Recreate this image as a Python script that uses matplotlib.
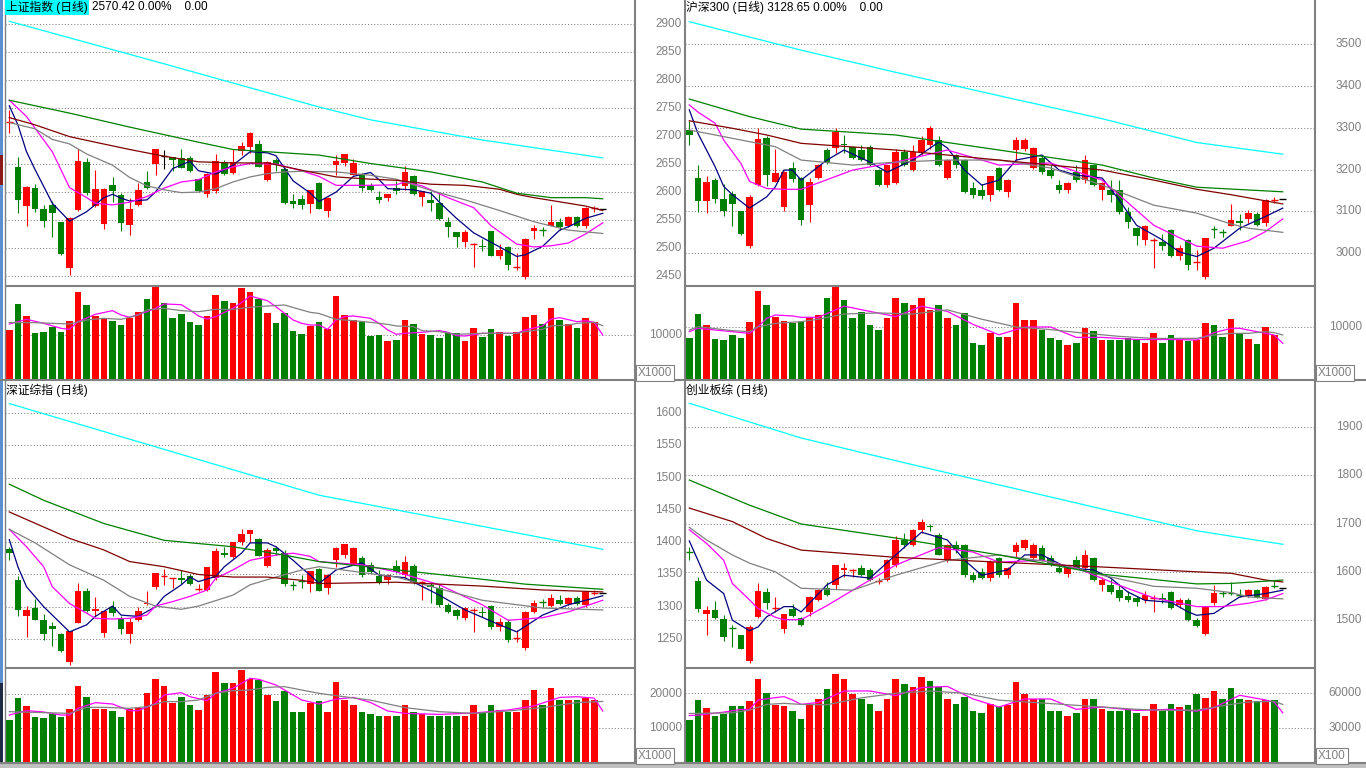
# four-panel daily k-line board (上证 / 沪深300 / 深证综指 / 创业板综)
import matplotlib
matplotlib.use('Agg')
import matplotlib.pyplot as plt
from matplotlib.lines import Line2D
from matplotlib.patches import Rectangle
from matplotlib.transforms import blended_transform_factory

plt.rcParams['font.family'] = ['Liberation Sans', 'Noto Sans CJK SC']

# ---------------- data ----------------
# rows are (open, high, low, close), 70 daily bars
sh_ohlc = [
    (2725, 2746, 2705, 2726), (2645, 2663, 2563, 2586), (2575, 2610, 2539, 2609),
    (2607, 2614, 2564, 2570), (2570, 2576, 2538, 2549), (2577, 2584, 2520, 2563),
    (2546, 2547, 2487, 2489), (2464, 2556, 2452, 2553), (2568, 2677, 2567, 2655),
    (2654, 2660, 2594, 2598), (2575, 2640, 2574, 2605), (2543, 2607, 2534, 2605),
    (2612, 2627, 2583, 2601), (2595, 2598, 2531, 2545), (2541, 2589, 2523, 2570),
    (2576, 2616, 2575, 2604), (2618, 2637, 2606, 2607), (2650, 2677, 2630, 2677),
    (2665, 2675, 2642, 2665), (2662, 2663, 2638, 2658), (2660, 2677, 2643, 2643),
    (2660, 2664, 2635, 2638), (2623, 2624, 2600, 2601), (2596, 2634, 2592, 2633),
    (2601, 2668, 2599, 2655), (2651, 2657, 2630, 2633), (2634, 2676, 2633, 2653),
    (2673, 2690, 2667, 2683), (2681, 2708, 2670, 2705), (2686, 2693, 2644, 2645),
    (2621, 2655, 2620, 2654), (2658, 2660, 2638, 2648), (2642, 2643, 2579, 2581),
    (2584, 2596, 2571, 2578), (2587, 2595, 2569, 2577), (2578, 2604, 2563, 2604),
    (2617, 2618, 2569, 2570), (2567, 2592, 2556, 2590), (2648, 2667, 2630, 2655),
    (2651, 2668, 2646, 2668), (2630, 2659, 2630, 2651), (2630, 2634, 2601, 2607),
    (2610, 2617, 2601, 2604), (2591, 2601, 2580, 2586), (2590, 2597, 2584, 2596),
    (2608, 2619, 2596, 2602), (2610, 2646, 2604, 2636), (2629, 2630, 2595, 2596),
    (2591, 2601, 2575, 2601), (2586, 2601, 2567, 2580), (2581, 2599, 2550, 2551),
    (2547, 2556, 2519, 2538), (2528, 2529, 2501, 2519), (2510, 2532, 2501, 2529),
    (2507, 2509, 2466, 2508), (2504, 2517, 2495, 2502), (2530, 2531, 2486, 2486),
    (2485, 2507, 2480, 2496), (2501, 2504, 2460, 2469), (2466, 2491, 2460, 2467),
    (2449, 2518, 2444, 2516), (2530, 2541, 2517, 2536), (2532, 2538, 2521, 2531),
    (2539, 2577, 2539, 2547), (2546, 2553, 2532, 2537), (2539, 2557, 2537, 2556),
    (2556, 2558, 2537, 2539), (2540, 2573, 2535, 2572), (2571, 2575, 2565, 2572),
    (2570.42, 2570.42, 2570.42, 2570.42),
]
sh_vol = [11140, 17050, 14320, 10530, 10680, 11820, 10680, 13180, 19770, 16820,
          14320, 13860, 13250, 12270, 13860, 15230, 18180, 20910, 17200, 13860,
          14850, 12950, 12270, 14320, 19090, 17730, 17270, 20680, 19770, 18180,
          15000, 12730, 15000, 10910, 10230, 12120, 12950, 11360, 18860, 14550,
          13410, 12950, 9770, 10000, 8640, 8860, 13410, 12500, 10230, 10000,
          9320, 10450, 10450, 8640, 11590, 9550, 11360, 10680, 9770, 10680,
          14090, 14550, 12500, 16140, 13410, 12500, 11590, 13860, 12950, 100]
# moving averages as (bar, value) readings
sh_ma5 = [(0, 2754), (1, 2720), (2, 2672), (3, 2640), (5, 2580), (7, 2548), (9, 2565),
          (11, 2590), (12, 2596), (13, 2589), (14, 2584), (16, 2586), (17, 2600), (19, 2642),
          (21, 2655), (22, 2638), (24, 2632), (26, 2648), (28, 2672), (30, 2670), (31, 2665),
          (33, 2620), (35, 2598), (36, 2583), (38, 2600), (40, 2628), (42, 2635), (43, 2622),
          (44, 2606), (47, 2604), (49, 2598), (50, 2582), (52, 2553), (54, 2527), (57, 2502),
          (59, 2485), (60, 2488), (62, 2503), (64, 2532), (65, 2538), (67, 2553), (69, 2562)]
sh_ma10 = [(0, 2764), (2, 2735), (4, 2693), (5, 2672), (7, 2608), (9, 2590), (10, 2580),
           (12, 2577), (14, 2582), (16, 2592), (18, 2607), (20, 2618), (22, 2622), (24, 2636),
           (26, 2645), (28, 2651), (31, 2650), (34, 2638), (36, 2628), (38, 2612), (42, 2612),
           (45, 2613), (46, 2618), (48, 2611), (51, 2590), (54, 2572), (56, 2540), (59, 2507),
           (61, 2502), (63, 2504), (65, 2509), (67, 2525), (69, 2545)]
sh_ma20 = [(0, 2724), (3, 2713), (5, 2694), (7, 2686), (9, 2668), (12, 2648), (14, 2626),
           (16, 2611), (18, 2604), (20, 2599), (22, 2600), (24, 2606), (26, 2618), (28, 2627),
           (30, 2633), (32, 2636), (34, 2637), (38, 2636), (42, 2630), (45, 2623), (49, 2603),
           (53, 2586), (57, 2567), (61, 2547), (65, 2532), (69, 2526)]
sh_ma30 = [(0, 2733), (3, 2720), (7, 2699), (10, 2689), (14, 2676), (18, 2664), (22, 2654),
           (26, 2652), (30, 2652), (34, 2639), (38, 2627), (42, 2623), (45, 2621), (49, 2614),
           (53, 2612), (57, 2605), (59, 2596), (61, 2590), (65, 2580), (67, 2575), (69, 2567)]
sh_ma60 = [(0, 2764), (7, 2741), (14, 2716), (22, 2689), (26, 2676), (36, 2666), (42, 2651),
           (49, 2636), (55, 2618), (59, 2598), (63, 2590), (67, 2590), (69, 2588)]
sh_ma250 = [(0, 2905), (18, 2829), (36, 2752), (42, 2729), (55, 2693), (69, 2661)]
sh_vma5 = [(0, 12500), (2, 13560), (4, 12650), (6, 11520), (7, 11290), (8, 13030), (10, 14700),
           (12, 15530), (13, 14550), (14, 14020), (16, 15300), (17, 16060), (18, 17050),
           (20, 16890), (21, 15680), (22, 14320), (23, 13640), (24, 14170), (25, 15150),
           (26, 16060), (27, 17350), (28, 18860), (29, 18330), (30, 17800), (31, 16440),
           (32, 14920), (33, 13410), (34, 12650), (35, 12270), (36, 12270), (37, 11290),
           (38, 13410), (39, 14170), (40, 14320), (42, 13790), (43, 12650), (44, 11140),
           (45, 10150), (46, 10380), (48, 10610), (50, 10990), (51, 10610), (52, 9850),
           (53, 9770), (55, 10380), (57, 10380), (59, 10380), (60, 11140), (62, 12050),
           (63, 13640), (64, 13940), (66, 13030), (67, 13260), (68, 12880), (69, 10000)]
sh_vma10 = [(0, 12800), (3, 12800), (5, 12650), (7, 12500), (9, 13410), (11, 13790),
            (13, 13560), (15, 14550), (16, 15680), (18, 16060), (20, 15530), (22, 15300),
            (24, 15830), (26, 15830), (28, 16290), (30, 16590), (32, 16820), (34, 15680),
            (35, 15150), (36, 14900), (38, 13560), (40, 13260), (42, 12880), (44, 12420),
            (45, 12050), (47, 11890), (48, 10990), (50, 10760), (52, 10150), (55, 10380),
            (59, 10380), (60, 10760), (62, 11290), (63, 12050), (65, 12270), (66, 12650),
            (68, 12880), (69, 12120)]

hs_ohlc = [
    (3295, 3317, 3259, 3283), (3179, 3211, 3099, 3125), (3125, 3185, 3097, 3171),
    (3175, 3180, 3121, 3129), (3130, 3165, 3090, 3102), (3142, 3149, 3064, 3118),
    (3100, 3101, 3044, 3046), (3018, 3139, 3012, 3135), (3163, 3299, 3160, 3273),
    (3275, 3280, 3161, 3187), (3171, 3249, 3170, 3191), (3110, 3196, 3102, 3195),
    (3203, 3219, 3170, 3177), (3180, 3182, 3068, 3080), (3115, 3180, 3075, 3171),
    (3180, 3213, 3178, 3211), (3247, 3252, 3214, 3216), (3252, 3299, 3240, 3290),
    (3262, 3283, 3240, 3258), (3254, 3257, 3225, 3228), (3247, 3260, 3220, 3223),
    (3254, 3258, 3208, 3211), (3199, 3201, 3160, 3163), (3163, 3212, 3158, 3211),
    (3168, 3250, 3165, 3242), (3242, 3250, 3208, 3211), (3199, 3260, 3197, 3242),
    (3242, 3280, 3235, 3271), (3259, 3304, 3250, 3300), (3271, 3280, 3208, 3211),
    (3180, 3225, 3178, 3223), (3235, 3238, 3205, 3211), (3223, 3225, 3144, 3147),
    (3156, 3170, 3132, 3140), (3151, 3165, 3130, 3137), (3140, 3186, 3125, 3185),
    (3204, 3206, 3148, 3151), (3147, 3178, 3135, 3175), (3247, 3278, 3223, 3271),
    (3250, 3275, 3245, 3271), (3204, 3255, 3202, 3252), (3228, 3235, 3190, 3194),
    (3199, 3210, 3180, 3185), (3163, 3175, 3145, 3151), (3151, 3170, 3145, 3168),
    (3194, 3210, 3170, 3175), (3175, 3235, 3168, 3223), (3211, 3214, 3160, 3163),
    (3151, 3170, 3128, 3168), (3151, 3175, 3122, 3140), (3151, 3175, 3095, 3099),
    (3099, 3110, 3060, 3075), (3061, 3063, 3020, 3041), (3032, 3068, 3020, 3065),
    (3032, 3037, 2965, 3033), (3027, 3045, 3008, 3018), (3056, 3058, 2992, 2994),
    (2994, 3020, 2985, 3013), (3032, 3035, 2960, 2972), (2979, 3008, 2960, 2980),
    (2942, 3037, 2938, 3037), (3058, 3064, 3036, 3057), (3050, 3057, 3040, 3049),
    (3065, 3118, 3064, 3080), (3077, 3094, 3056, 3073), (3083, 3104, 3073, 3096),
    (3094, 3099, 3065, 3067), (3073, 3129, 3065, 3127), (3127, 3134, 3120, 3128),
    (3128.65, 3128.65, 3128.65, 3128.65),
]
hs_vol = [7950, 12500, 10380, 7690, 7500, 8460, 7950, 10960, 16920, 14230,
          11990, 11150, 10700, 10960, 11730, 12310, 15580, 17690, 15190, 11730,
          12880, 10380, 9420, 11730, 15580, 14620, 14230, 15580, 13270, 14230,
          11730, 10380, 12690, 6920, 6540, 8850, 8080, 8080, 14620, 11350,
          11350, 9420, 7880, 7500, 6540, 6920, 9810, 9230, 7500, 7500,
          7500, 7880, 7500, 6920, 8850, 6920, 8460, 7500, 7310, 7500,
          10700, 10380, 8010, 11540, 8910, 7690, 6730, 10060, 8460, 60]
hs_ma5 = [(0, 3343), (1, 3287), (3, 3207), (4, 3160), (5, 3140), (7, 3108), (9, 3135),
          (10, 3159), (11, 3199), (12, 3199), (13, 3175), (16, 3223), (18, 3247), (21, 3218),
          (23, 3194), (26, 3223), (29, 3266), (30, 3252), (32, 3199), (34, 3163), (36, 3175),
          (38, 3223), (41, 3235), (43, 3199), (45, 3187), (48, 3180), (50, 3127), (52, 3067),
          (55, 3032), (57, 3003), (59, 2992), (61, 3012), (64, 3060), (67, 3088), (69, 3108)]
hs_ma10 = [(0, 3355), (1, 3338), (3, 3311), (4, 3271), (6, 3215), (7, 3172), (9, 3155),
           (11, 3153), (13, 3153), (19, 3199), (24, 3218), (30, 3247), (36, 3211), (42, 3216),
           (48, 3175), (54, 3067), (59, 3017), (62, 3012), (65, 3030), (67, 3052), (69, 3082)]
hs_ma20 = [(0, 3295), (3, 3283), (7, 3267), (10, 3255), (13, 3223), (19, 3211), (24, 3218),
           (30, 3223), (36, 3223), (42, 3204), (48, 3163), (54, 3115), (59, 3096), (63, 3070),
           (65, 3060), (69, 3050)]
hs_ma30 = [(0, 3317), (5, 3299), (9, 3283), (13, 3263), (24, 3247), (36, 3223), (48, 3199),
           (54, 3175), (59, 3153), (63, 3140), (69, 3118)]
hs_ma60 = [(0, 3369), (7, 3327), (13, 3297), (24, 3283), (36, 3247), (48, 3211), (54, 3180),
           (59, 3158), (69, 3147)]
hs_ma250 = [(0, 3554), (13, 3486), (24, 3433), (36, 3377), (48, 3322), (59, 3265), (69, 3237)]
hs_vma5 = [(0, 9100), (1, 9750), (3, 9420), (5, 9100), (7, 8780), (8, 10060), (9, 11670),
           (10, 12310), (12, 12120), (13, 11860), (15, 11860), (18, 14000), (21, 13000),
           (24, 12000), (27, 14000), (30, 13000), (33, 10500), (36, 8500), (39, 10000),
           (42, 10000), (45, 8000), (48, 8000), (52, 7600), (56, 7600), (59, 7500),
           (61, 8900), (63, 9750), (64, 9750), (65, 9420), (67, 8780), (68, 8460), (69, 6860)]
hs_vma10 = [(0, 9420), (1, 10060), (5, 9300), (7, 9100), (8, 10060), (10, 10700), (13, 11030),
            (15, 11500), (18, 12500), (22, 12700), (26, 12500), (30, 13300), (34, 11500),
            (38, 10000), (42, 9500), (46, 8800), (50, 8200), (54, 7800), (59, 7820),
            (61, 8460), (63, 8780), (65, 8780), (67, 9100), (68, 8910), (69, 8460)]

sz_ohlc = [
    (1389, 1393, 1373, 1384), (1341, 1347, 1286, 1295), (1285, 1301, 1253, 1295),
    (1298, 1312, 1279, 1280), (1280, 1288, 1249, 1257), (1270, 1277, 1239, 1266),
    (1258, 1259, 1230, 1231), (1214, 1263, 1210, 1262), (1275, 1337, 1275, 1325),
    (1325, 1329, 1292, 1293), (1293, 1315, 1286, 1297), (1260, 1293, 1253, 1293),
    (1300, 1309, 1286, 1291), (1283, 1286, 1258, 1265), (1258, 1282, 1244, 1277),
    (1279, 1300, 1278, 1294), (1304, 1325, 1303, 1306), (1331, 1352, 1328, 1352),
    (1348, 1359, 1333, 1349), (1344, 1345, 1329, 1345), (1345, 1357, 1336, 1342),
    (1348, 1350, 1333, 1336), (1328, 1336, 1325, 1329), (1326, 1362, 1325, 1362),
    (1345, 1391, 1342, 1386), (1383, 1393, 1377, 1380), (1377, 1400, 1376, 1400),
    (1401, 1420, 1395, 1413), (1412, 1419, 1400, 1419), (1405, 1406, 1378, 1379),
    (1363, 1391, 1362, 1388), (1391, 1394, 1380, 1387), (1384, 1388, 1332, 1336),
    (1334, 1340, 1326, 1333), (1340, 1349, 1329, 1339), (1336, 1355, 1323, 1355),
    (1359, 1360, 1325, 1325), (1329, 1351, 1320, 1349), (1372, 1392, 1362, 1391),
    (1380, 1397, 1376, 1397), (1365, 1393, 1364, 1391), (1376, 1379, 1346, 1349),
    (1365, 1370, 1352, 1354), (1348, 1357, 1335, 1338), (1341, 1350, 1336, 1349),
    (1363, 1372, 1352, 1354), (1349, 1378, 1345, 1370), (1363, 1366, 1336, 1338),
    (1338, 1340, 1310, 1339), (1333, 1337, 1306, 1330), (1329, 1335, 1300, 1303),
    (1302, 1306, 1290, 1292), (1295, 1297, 1281, 1286), (1283, 1300, 1280, 1298),
    (1295, 1298, 1261, 1296), (1292, 1300, 1284, 1290), (1301, 1302, 1266, 1268),
    (1268, 1283, 1262, 1277), (1277, 1281, 1246, 1249), (1251, 1264, 1245, 1252),
    (1236, 1294, 1233, 1292), (1292, 1310, 1290, 1306), (1308, 1312, 1300, 1307),
    (1301, 1320, 1300, 1313), (1311, 1318, 1303, 1305), (1305, 1315, 1303, 1313),
    (1314, 1316, 1302, 1305), (1302, 1323, 1300, 1323), (1322, 1326, 1318, 1323),
    (1322, 1322, 1322, 1322),
]
sz_vol = [12350, 18820, 16470, 13240, 12940, 14220, 13240, 15590, 22350, 19120,
          15590, 15590, 15000, 13240, 15590, 15880, 20290, 24410, 22350, 17450,
          19120, 16770, 15290, 19710, 26470, 23240, 23240, 27060, 24410, 24120,
          19710, 17940, 20880, 14710, 14710, 17350, 17940, 14700, 23530, 18240,
          16760, 14700, 14120, 13530, 13530, 13530, 16760, 14700, 14120, 13530,
          13530, 13530, 13530, 13530, 16760, 14700, 16760, 15290, 14700, 14700,
          18240, 21180, 16760, 21760, 18240, 18240, 18240, 18820, 18240, 100]
sz_ma5 = [(0, 1404), (1, 1362), (2, 1331), (4, 1300), (6, 1274), (7, 1261), (9, 1272),
          (10, 1285), (12, 1301), (13, 1287), (15, 1285), (17, 1300), (18, 1316), (20, 1334),
          (21, 1346), (22, 1339), (24, 1347), (25, 1362), (27, 1383), (28, 1399), (30, 1399),
          (31, 1393), (33, 1372), (34, 1360), (35, 1349), (36, 1336), (38, 1357), (41, 1368),
          (43, 1349), (46, 1345), (50, 1318), (53, 1295), (57, 1272), (59, 1261), (62, 1287),
          (65, 1303), (69, 1317)]
sz_ma10 = [(0, 1420), (2, 1393), (4, 1362), (5, 1331), (7, 1305), (9, 1290), (10, 1282),
           (12, 1281), (14, 1282), (16, 1287), (17, 1301), (19, 1308), (21, 1316), (23, 1326),
           (24, 1344), (26, 1357), (28, 1372), (31, 1380), (33, 1383), (35, 1378), (36, 1370),
           (41, 1365), (45, 1354), (50, 1334), (55, 1303), (58, 1279), (62, 1283), (65, 1292),
           (69, 1310)]
sz_ma20 = [(0, 1420), (3, 1399), (7, 1365), (11, 1341), (14, 1316), (17, 1301), (20, 1296),
           (22, 1301), (26, 1318), (28, 1334), (31, 1346), (34, 1357), (36, 1362), (45, 1346),
           (55, 1310), (62, 1298), (69, 1295)]
sz_ma30 = [(0, 1447), (7, 1406), (11, 1388), (14, 1370), (18, 1362), (22, 1350), (26, 1346),
           (30, 1346), (34, 1341), (36, 1336), (45, 1338), (55, 1332), (62, 1326), (69, 1323)]
sz_ma60 = [(0, 1490), (4, 1465), (11, 1429), (18, 1403), (26, 1393), (32, 1380), (36, 1370),
           (50, 1350), (60, 1335), (69, 1327)]
sz_ma250 = [(0, 1615), (36, 1473), (69, 1389)]
sz_vma5 = [(0, 13820), (2, 15100), (4, 14710), (6, 13820), (7, 13820), (8, 15790), (10, 17450),
           (12, 17060), (14, 15100), (15, 15100), (17, 17250), (18, 19710), (20, 20390),
           (21, 19220), (23, 18040), (24, 20200), (26, 21670), (28, 24610), (29, 24310),
           (31, 22650), (32, 21180), (34, 18240), (36, 17060), (38, 18500), (40, 19000),
           (42, 17500), (44, 15000), (46, 14300), (50, 14000), (54, 14400), (58, 15300),
           (61, 16500), (64, 19000), (66, 19200), (68, 18800), (69, 15000)]
sz_vma10 = [(0, 14800), (7, 14310), (9, 16080), (11, 16080), (14, 15790), (16, 16270),
            (18, 17750), (20, 17750), (22, 18240), (24, 20200), (26, 20980), (28, 21180),
            (30, 21960), (32, 22160), (34, 21180), (36, 20200), (38, 19500), (42, 18200),
            (46, 16000), (50, 14800), (54, 14300), (58, 15000), (62, 16000), (66, 17500),
            (69, 17800)]

cy_ohlc = [
    (1642, 1652, 1624, 1641), (1581, 1590, 1516, 1524), (1512, 1529, 1469, 1521),
    (1522, 1540, 1502, 1504), (1502, 1510, 1457, 1465), (1483, 1490, 1445, 1482),
    (1469, 1470, 1440, 1441), (1416, 1490, 1411, 1486), (1506, 1577, 1505, 1561),
    (1558, 1566, 1524, 1535), (1526, 1548, 1517, 1527), (1481, 1513, 1474, 1512),
    (1524, 1533, 1506, 1508), (1504, 1507, 1488, 1490), (1517, 1550, 1508, 1548),
    (1541, 1565, 1540, 1562), (1566, 1578, 1550, 1552), (1573, 1615, 1565, 1614),
    (1603, 1618, 1590, 1607), (1603, 1606, 1590, 1604), (1608, 1615, 1592, 1594),
    (1604, 1608, 1580, 1583), (1582, 1588, 1575, 1583), (1583, 1626, 1580, 1624),
    (1614, 1675, 1610, 1666), (1666, 1680, 1650, 1656), (1655, 1688, 1654, 1686),
    (1686, 1710, 1680, 1703), (1694, 1700, 1685, 1692), (1676, 1680, 1634, 1635),
    (1624, 1658, 1620, 1655), (1655, 1664, 1640, 1645), (1655, 1658, 1590, 1593),
    (1593, 1600, 1578, 1583), (1600, 1608, 1585, 1587), (1587, 1625, 1580, 1620),
    (1628, 1630, 1590, 1593), (1593, 1610, 1588, 1607), (1641, 1662, 1630, 1655),
    (1649, 1668, 1645, 1666), (1628, 1660, 1625, 1655), (1649, 1655, 1622, 1624),
    (1628, 1635, 1612, 1614), (1608, 1615, 1598, 1600), (1595, 1610, 1590, 1608),
    (1624, 1632, 1605, 1608), (1608, 1645, 1602, 1635), (1628, 1630, 1580, 1583),
    (1573, 1590, 1560, 1583), (1573, 1585, 1555, 1558), (1562, 1575, 1540, 1546),
    (1550, 1560, 1538, 1541), (1546, 1550, 1530, 1537), (1541, 1560, 1535, 1552),
    (1545, 1552, 1517, 1546), (1546, 1556, 1535, 1541), (1558, 1560, 1523, 1525),
    (1531, 1545, 1525, 1541), (1541, 1545, 1498, 1500), (1500, 1505, 1485, 1488),
    (1472, 1528, 1469, 1528), (1535, 1572, 1532, 1557), (1557, 1560, 1548, 1556),
    (1556, 1578, 1552, 1555), (1553, 1565, 1548, 1552), (1550, 1564, 1548, 1562),
    (1562, 1565, 1546, 1548), (1543, 1571, 1541, 1569), (1571, 1581, 1566, 1570),
    (1566, 1566, 1566, 1566),
]
cy_vol = [36470, 53820, 46760, 40590, 41470, 48530, 48530, 52940, 72350, 60000,
          49410, 48530, 44120, 37940, 50300, 54710, 63530, 76760, 72350, 59120,
          54710, 50300, 44120, 54710, 72350, 67940, 65300, 74120, 70590, 65300,
          54710, 50300, 56470, 44120, 42350, 50300, 47650, 49410, 69710, 59120,
          54710, 54710, 44120, 44120, 40590, 42350, 54710, 54710, 45880, 44120,
          44120, 45880, 42350, 40590, 50300, 44120, 50300, 47650, 49410, 59120,
          55590, 61760, 54710, 64410, 54710, 53820, 52940, 53820, 53820, 300]
cy_ma5 = [(0, 1664), (1, 1624), (2, 1583), (4, 1555), (5, 1500), (7, 1478), (8, 1486),
          (9, 1507), (11, 1528), (12, 1528), (13, 1517), (16, 1573), (18, 1593), (21, 1587),
          (24, 1635), (27, 1682), (30, 1666), (32, 1624), (34, 1593), (37, 1604), (39, 1635),
          (41, 1635), (44, 1608), (47, 1604), (49, 1587), (51, 1558), (53, 1541), (56, 1537),
          (58, 1517), (59, 1510), (61, 1514), (64, 1548), (67, 1555), (69, 1562)]
cy_ma10 = [(0, 1687), (2, 1659), (4, 1624), (5, 1576), (7, 1542), (8, 1524), (10, 1506),
           (11, 1501), (13, 1501), (16, 1530), (19, 1562), (24, 1614), (29, 1650), (33, 1641),
           (36, 1620), (41, 1624), (45, 1608), (50, 1572), (54, 1546), (59, 1528), (62, 1528),
           (65, 1535), (67, 1542), (69, 1555)]
cy_ma20 = [(0, 1692), (2, 1666), (5, 1635), (7, 1618), (10, 1600), (13, 1566), (19, 1562),
           (24, 1593), (30, 1624), (36, 1635), (42, 1620), (48, 1593), (54, 1570), (59, 1566),
           (63, 1557), (65, 1548), (69, 1544)]
cy_ma30 = [(0, 1732), (5, 1704), (9, 1669), (13, 1645), (24, 1630), (36, 1620), (48, 1610),
           (59, 1600), (63, 1597), (67, 1583), (69, 1579)]
cy_ma60 = [(0, 1790), (7, 1738), (13, 1699), (24, 1670), (36, 1635), (48, 1595), (59, 1575),
           (63, 1576), (69, 1583)]
cy_ma250 = [(0, 1949), (13, 1877), (24, 1830), (36, 1780), (48, 1730), (59, 1685), (69, 1657)]
cy_vma5 = [(0, 40590), (1, 40880), (4, 43530), (6, 45880), (7, 45880), (8, 54120), (10, 56180),
           (11, 57060), (12, 54120), (13, 50290), (15, 52000), (18, 62000), (21, 62000),
           (24, 58000), (27, 65000), (30, 66000), (33, 55000), (36, 48000), (39, 55000),
           (42, 55000), (45, 46000), (48, 48000), (52, 45000), (56, 46000), (59, 44410),
           (61, 47350), (63, 54710), (64, 58240), (67, 54120), (68, 52350), (69, 42940)]
cy_vma10 = [(0, 42350), (5, 42940), (7, 45290), (9, 50290), (11, 51180), (13, 50290),
            (16, 50000), (20, 56000), (24, 60000), (28, 62000), (32, 60000), (36, 54000),
            (40, 52000), (44, 50000), (48, 48000), (52, 46000), (56, 45000), (59, 45290),
            (63, 50290), (65, 52350), (68, 52940), (69, 50290)]

# axis labels
sh_ticks = [2450, 2500, 2550, 2600, 2650, 2700, 2750, 2800, 2850, 2900]
hs_ticks = [3000, 3100, 3200, 3300, 3400, 3500]
sz_ticks = [1250, 1300, 1350, 1400, 1450, 1500, 1550, 1600]
cy_ticks = [1500, 1600, 1700, 1800, 1900]
sh_vticks = [10000]
hs_vticks = [10000]
sz_vticks = [10000, 20000]
cy_vticks = [30000, 60000]

# ---------------- drawing ----------------
W, H = 1366, 768
RED = '#FF0000'
GREEN = '#008000'
GRAY = '#808080'
MA_COLORS = ['#000080', '#FF00FF', '#808080', '#800000', '#008000', '#00FFFF']

fig = plt.figure(figsize=(W / 100, H / 100), dpi=100)
fig.patch.set_facecolor('white')


def px_axes(x0, y0, x1, y1):
    ax = fig.add_axes([x0 / W, 1 - y1 / H, (x1 - x0) / W, (y1 - y0) / H])
    ax.set_axis_off()
    ax.set_xlim(-0.5, 72.75)
    return ax


def fig_line(x0, y0, x1, y1, color=GRAY, lw=1.5):
    fig.add_artist(Line2D([x0 / W, x1 / W], [1 - y0 / H, 1 - y1 / H], color=color, lw=lw,
                          transform=fig.transFigure, solid_capstyle='butt'))


def fig_rect(x0, y0, x1, y1, color):
    fig.add_artist(Rectangle((x0 / W, 1 - y1 / H), (x1 - x0) / W, (y1 - y0) / H,
                             transform=fig.transFigure, color=color, lw=0))


def fig_text(x, y, s, **kw):
    fig.text(x / W, 1 - y / H, s, **kw)


def draw_candles(ax, ohlc):
    for i, row in enumerate(ohlc):
        o, h, l, c = row
        if c > o:
            col = RED
        elif c < o:
            col = GREEN
        else:
            col = 'black'
        if h > l:
            ax.vlines(i, l, h, color=col, lw=0.8, zorder=2)
        if abs(c - o) < 1.5:
            ax.hlines(o, i - 0.39, i + 0.39, color=col, lw=1.0, zorder=2)
        else:
            ax.bar(i, abs(c - o), bottom=min(o, c), width=0.78, color=col, lw=0, zorder=2)


def draw_volume(ax, ohlc, vol):
    prev = None
    for i, (row, v) in enumerate(zip(ohlc, vol)):
        o, c = row[0], row[3]
        up = c > o or (c == o and prev is not None and c >= prev)
        ax.bar(i, v, width=0.78, color=RED if up else GREEN, lw=0, zorder=2)
        prev = c


def draw_line(ax, pts, color):
    xs = [p[0] for p in pts]
    ys = [p[1] for p in pts]
    ax.plot(xs, ys, color=color, lw=0.9, zorder=3)


def grid_and_labels(ax, ticks):
    tr = blended_transform_factory(ax.transAxes, ax.transData)
    for t in ticks:
        ax.axhline(t, color=GRAY, lw=0.75, ls=(0, (1, 2)), zorder=1)
        ax.text(1.0746, t, '%d' % t, transform=tr, ha='right', va='center', color=GRAY,
                fontsize=8.5, clip_on=False)


def panel(rect_p, rect_v, ylim, vtop, ohlc, vol, mas, vmas, ticks, vticks):
    axp = px_axes(*rect_p)
    axp.set_ylim(*ylim)
    axv = px_axes(*rect_v)
    axv.set_ylim(0, vtop)
    grid_and_labels(axp, ticks)
    grid_and_labels(axv, vticks)
    draw_candles(axp, ohlc)
    for pts, col in zip(mas, MA_COLORS):
        draw_line(axp, pts, col)
    draw_volume(axv, ohlc, vol)
    draw_line(axv, vmas[0], '#FF00FF')
    draw_line(axv, vmas[1], GRAY)


panel((5, 0, 635, 285), (5, 286, 635, 379), (2434, 2943), 21136, sh_ohlc, sh_vol,
      [sh_ma5, sh_ma10, sh_ma20, sh_ma30, sh_ma60, sh_ma250], [sh_vma5, sh_vma10],
      sh_ticks, sh_vticks)
panel((685, 0, 1315, 285), (685, 286, 1315, 379), (2924, 3606), 17885, hs_ohlc, hs_vol,
      [hs_ma5, hs_ma10, hs_ma20, hs_ma30, hs_ma60, hs_ma250], [hs_vma5, hs_vma10],
      hs_ticks, hs_vticks)
panel((5, 381, 635, 668), (5, 669, 635, 762), (1205, 1650), 27353, sz_ohlc, sz_vol,
      [sz_ma5, sz_ma10, sz_ma20, sz_ma30, sz_ma60, sz_ma250], [sz_vma5, sz_vma10],
      sz_ticks, sz_vticks)
panel((685, 381, 1315, 667), (685, 668, 1315, 762), (1403, 1995), 82059, cy_ohlc, cy_vol,
      [cy_ma5, cy_ma10, cy_ma20, cy_ma30, cy_ma60, cy_ma250], [cy_vma5, cy_vma10],
      cy_ticks, cy_vticks)

# frame lines
fig_line(5, 285.5, 635, 285.5)
fig_line(685, 285.5, 1315, 285.5)
fig_line(0, 380.5, W, 380.5)
fig_line(5, 668, 635, 668)
fig_line(685, 667.5, 1315, 667.5)
fig_line(0, 762.5, W, 762.5)
for xv in (635, 685, 1315):
    fig_line(xv, 0, xv, 763)
fig_line(4.5, 0, 4.5, 763, lw=1.0)
# window edge strip on the far left and status strip at the bottom
fig_rect(0, 0, 3, H, '#5B8FD0')
fig_rect(0, 155, 3, 185, '#8B1A1A')
fig_rect(0, 683, 3, H, '#1F2A44')
fig_rect(0, 763, W, H, '#C0C0C0')

# titles
fig_text(6, 7, '上证指数 (日线)', fontsize=8.5, va='center', ha='left',
         bbox=dict(facecolor='#00FFFF', edgecolor='none', boxstyle='square,pad=0.12'))
fig_text(92, 7, '2570.42 0.00%    0.00', fontsize=8.5, va='center', ha='left')
fig_text(686, 7, '沪深300 (日线) 3128.65 0.00%    0.00', fontsize=8.5, va='center', ha='left')
fig_text(6, 390, '深证综指 (日线)', fontsize=8.5, va='center', ha='left')
fig_text(686, 390, '创业板综 (日线)', fontsize=8.5, va='center', ha='left')

# volume unit boxes
box = dict(facecolor='white', edgecolor=GRAY, boxstyle='square,pad=0.15', lw=0.8)
fig_text(638, 373, 'X1000', fontsize=8.5, color=GRAY, va='center', ha='left', bbox=box)
fig_text(1318, 373, 'X1000', fontsize=8.5, color=GRAY, va='center', ha='left', bbox=box)
fig_text(638, 756, 'X1000', fontsize=8.5, color=GRAY, va='center', ha='left', bbox=box)
fig_text(1318, 756, 'X100', fontsize=8.5, color=GRAY, va='center', ha='left', bbox=box)

fig.savefig('out.png', dpi=100, facecolor='white')
